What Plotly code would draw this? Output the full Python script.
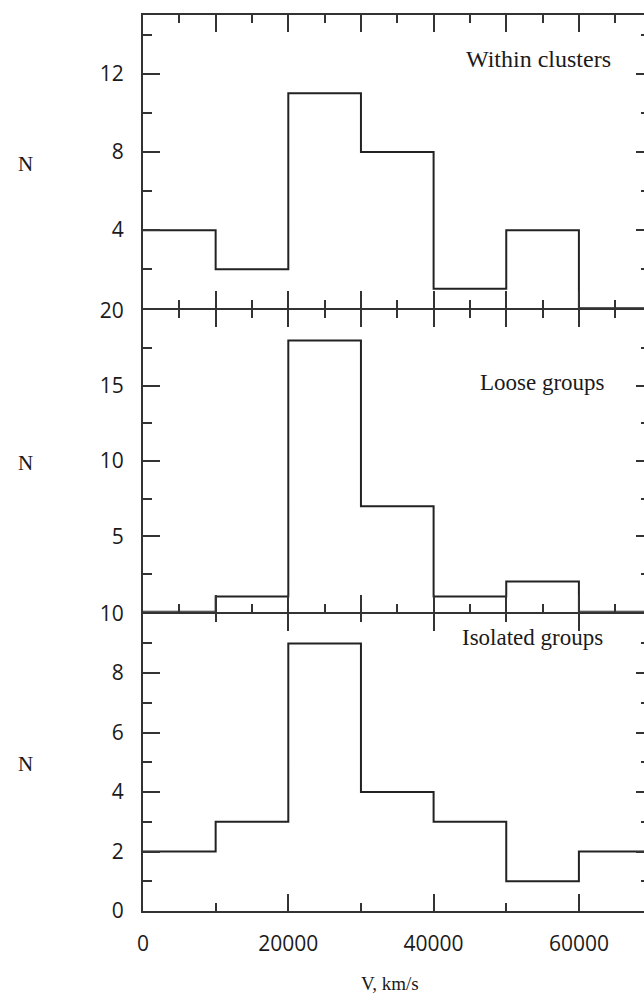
import plotly.graph_objects as go

# ---- data ----
bin_edges = [0, 10000, 20000, 30000, 40000, 50000, 60000, 70000]
within_clusters = [4, 2, 11, 8, 1, 4, 0]
loose_groups = [0, 1, 18, 7, 1, 2, 0]
isolated_groups = [2, 3, 9, 4, 3, 1, 2]

panel_labels = ["Within clusters", "Loose groups", "Isolated groups"]
y_ticks_top = [4, 8, 12]
y_ticks_mid = [5, 10, 15, 20]
y_ticks_bot = [0, 2, 4, 6, 8, 10]

LINE = "#222222"
AX = "#333333"
TICKFONT = dict(family="Open Sans", size=21, color="#1a1a1a")
SERIF = "Liberation Serif"

W, H = 644, 998
ML, MR, MT, MB = 143, 0, 10, 87
plot_w = W - ML - MR
plot_h = H - MT - MB  # 901
bottom_px = H - MB

def frac(px):
    return (bottom_px - px) / plot_h

# panel pixel spans (from top); 2px gap so the shared axis lines overlap
top_dom = [frac(305), 1.0]
mid_dom = [frac(610), frac(307)]
bot_dom = [0.0, frac(612)]

fig = go.Figure()

series = [within_clusters, loose_groups, isolated_groups]
yax = ["y", "y2", "y3"]
xax = ["x", "x2", "x3"]
for s, xa, ya in zip(series, xax, yax):
    fig.add_trace(go.Scatter(
        x=bin_edges, y=s + [s[-1]], mode="lines", line_shape="hv",
        line=dict(color=LINE, width=2), xaxis=xa, yaxis=ya,
        showlegend=False, hoverinfo="skip"))

# helper traces for right-side tick axes
for xa, ya in zip(xax, ["y4", "y5", "y6"]):
    fig.add_trace(go.Scatter(x=[None], y=[None], xaxis=xa, yaxis=ya,
                             showlegend=False, hoverinfo="skip"))

xr = [0, 68960]

def xaxis_cfg(anchor, major, minor, labels):
    return dict(
        domain=[0, 1], anchor=anchor, range=xr, showgrid=False, zeroline=False,
        showline=True, linecolor=AX, linewidth=2, mirror="ticks",
        ticks="inside", ticklen=17, tickwidth=2, tickcolor=AX,
        tickmode="linear", tick0=0, dtick=major, tickformat="d",
        minor=dict(ticks="inside", ticklen=8, tickwidth=2, tickcolor=AX,
                   tickmode="linear", tick0=0, dtick=minor, showgrid=False),
        showticklabels=labels, tickfont=TICKFONT, ticklabelstandoff=13,
        fixedrange=True)

def yaxis_cfg(anchor, dom, rng, vals, minor):
    return dict(
        domain=dom, anchor=anchor, range=rng, showgrid=False, zeroline=False,
        showline=True, linecolor=AX, linewidth=2, mirror=False,
        ticks="inside", ticklen=17, tickwidth=2, tickcolor=AX,
        tickmode="array", tickvals=vals, ticktext=[str(v) for v in vals],
        minor=dict(ticks="inside", ticklen=9, tickwidth=2, tickcolor=AX,
                   tickmode="linear", tick0=0, dtick=minor, showgrid=False),
        tickfont=TICKFONT, ticklabelstandoff=13, fixedrange=True)

def yright_cfg(over, anchor, rng, vals, minor):
    return dict(
        overlaying=over, side="right", anchor=anchor, range=rng,
        showgrid=False, zeroline=False, showline=False,
        ticks="inside", ticklen=8, tickwidth=2, tickcolor=AX,
        tickmode="array", tickvals=vals, showticklabels=False,
        minor=dict(ticks="inside", ticklen=3, tickwidth=2, tickcolor=AX,
                   tickmode="linear", tick0=0, dtick=minor, showgrid=False),
        fixedrange=True)

fig.update_layout(
    width=W, height=H,
    margin=dict(l=ML, r=MR, t=MT, b=MB, pad=0),
    paper_bgcolor="white", plot_bgcolor="white",
    showlegend=False,
    xaxis=xaxis_cfg("y", 10000, 5000, False),
    xaxis2=xaxis_cfg("y2", 10000, 5000, False),
    xaxis3=xaxis_cfg("y3", 20000, 10000, True),
    yaxis=yaxis_cfg("x", top_dom, [0, 15], y_ticks_top, 2),
    yaxis2=yaxis_cfg("x2", mid_dom, [0, 20], y_ticks_mid, 2.5),
    yaxis3=yaxis_cfg("x3", bot_dom, [0, 10], y_ticks_bot, 1),
    yaxis4=yright_cfg("y", "x", [0, 15], y_ticks_top, 2),
    yaxis5=yright_cfg("y2", "x2", [0, 20], y_ticks_mid, 2.5),
    yaxis6=yright_cfg("y3", "x3", [0, 10], y_ticks_bot, 1),
)

def px_x(p):
    return (p - ML) / plot_w

def px_y(p):
    return (bottom_px - p) / plot_h

ann = []
label_sizes = [24, 23, 23]
for txt, xr_px, yc, fs in zip(panel_labels, [613, 607, 605], [54, 380, 636], label_sizes):
    ann.append(dict(text=txt, xref="paper", yref="paper", x=px_x(xr_px), y=px_y(yc),
                    xanchor="right", yanchor="middle", showarrow=False,
                    font=dict(family=SERIF, size=fs, color="#1a1a1a")))
for yc in [160, 460, 763]:
    ann.append(dict(text="N", xref="paper", yref="paper", x=px_x(25), y=px_y(yc),
                    xanchor="center", yanchor="middle", showarrow=False,
                    font=dict(family=SERIF, size=21, color="#1a1a1a")))
ann.append(dict(text="V, km/s", xref="paper", yref="paper", x=px_x(390), y=px_y(984),
                xanchor="center", yanchor="middle", showarrow=False,
                font=dict(family=SERIF, size=19, color="#1a1a1a")))
fig.update_layout(annotations=ann)

fig.write_html("out.html", config={"displayModeBar": False},
               post_script="document.body.style.margin='0px';")
